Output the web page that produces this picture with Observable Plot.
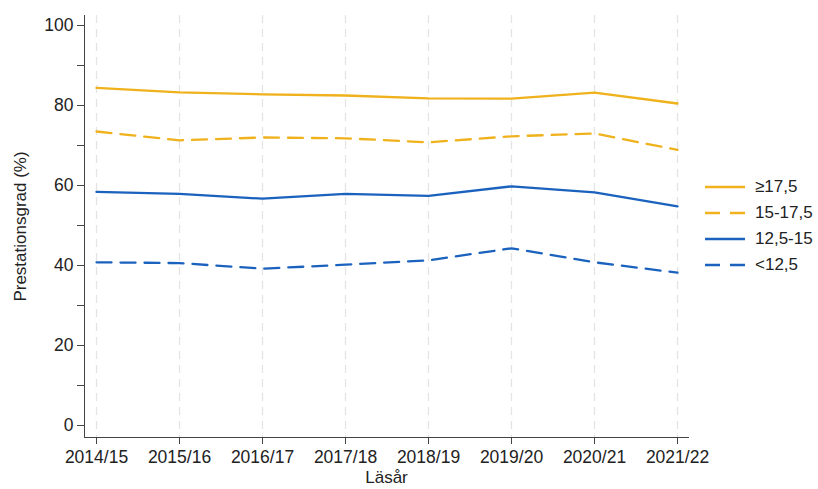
<!DOCTYPE html>
<html>
<head>
<meta charset="utf-8">
<script src="https://cdn.jsdelivr.net/npm/d3@7"></script>
<script src="https://cdn.jsdelivr.net/npm/@observablehq/plot@0.6"></script>
<style>
  html, body { margin: 0; padding: 0; background: #fff; }
  #wrap { position: relative; width: 818px; height: 489px; font-family: "Liberation Sans", Arial, sans-serif; }
  #legend { position: absolute; left: 705px; top: 174px; font-size: 17px; color: #222; }
  #legend .row { display: flex; align-items: center; height: 26px; }
  #legend svg { margin-right: 10px; }
</style>
</head>
<body>
<div id="wrap"><div id="chart"></div><div id="legend"></div></div>
<script>
const years = ["2014/15","2015/16","2016/17","2017/18","2018/19","2019/20","2020/21","2021/22"];
const seriesNames = ["≥17,5","15-17,5","12,5-15","<12,5"];
const seriesColors = ["#EFB11C","#EFB11C","#1A62BD","#1A62BD"];
const seriesDash = [null, "15,9", null, "15,9"];
const vTop = [84.4, 83.3, 82.8, 82.5, 81.8, 81.7, 83.2, 80.5];
const vHigh = [73.5, 71.3, 72.0, 71.8, 70.8, 72.3, 73.0, 68.9];
const vMid = [58.4, 57.9, 56.7, 57.9, 57.4, 59.8, 58.3, 54.8];
const vLow = [40.8, 40.6, 39.2, 40.2, 41.3, 44.3, 40.8, 38.2];
const majorTicks = [0, 20, 40, 60, 80, 100];
const minorTicks = [10, 30, 50, 70, 90];

const allValues = [vTop, vHigh, vMid, vLow];
const data = [];
seriesNames.forEach((s, i) => years.forEach((y, j) => data.push({series: s, year: y, value: allValues[i][j]})));

const lineMarks = seriesNames.map((s, i) =>
  Plot.line(data.filter(d => d.series === s), {
    x: "year", y: "value", stroke: seriesColors[i], strokeWidth: 2.3,
    strokeDasharray: seriesDash[i] || undefined
  })
);

const chart = Plot.plot({
  width: 818,
  height: 489,
  marginLeft: 84,
  marginRight: 130,
  marginTop: 15,
  marginBottom: 52,
  style: {fontFamily: "'Liberation Sans', Arial, sans-serif", fontSize: "17px", color: "#222", background: "#fff"},
  x: {type: "point", domain: years, padding: 0, insetLeft: 11, insetRight: 11, label: null},
  y: {domain: [0, 100], insetTop: 10, insetBottom: 12, label: null},
  marks: [
    Plot.gridX(years, {stroke: "#e4e4e4", strokeOpacity: 1, strokeWidth: 1.3, strokeDasharray: "8,6"}),
    Plot.axisY(majorTicks, {tickSize: 7, tickPadding: 4, stroke: "#444", fontSize: 17.5, label: null}),
    Plot.axisY(minorTicks, {tickSize: 7, tickFormat: () => "", stroke: "#444", label: null}),
    Plot.axisX(years, {tickSize: 7, tickPadding: 6, stroke: "#444", fontSize: 17.5, label: null}),
    Plot.frame({anchor: "left", stroke: "#444"}),
    Plot.frame({anchor: "bottom", stroke: "#444"}),
    ...lineMarks,
    Plot.text(["Läsår"], {frameAnchor: "bottom", dy: 45, fontSize: 17, fill: "#222"}),
    Plot.text(["Prestationsgrad (%)"], {frameAnchor: "left", textAnchor: "middle", dx: -64, rotate: -90, fontSize: 17, fill: "#222"})
  ]
});
document.getElementById("chart").appendChild(chart);

const legend = document.getElementById("legend");
seriesNames.forEach((s, i) => {
  const row = document.createElement("div");
  row.className = "row";
  row.innerHTML = `<svg width="40" height="6"><line x1="0" y1="3" x2="40" y2="3" stroke="${seriesColors[i]}" stroke-width="2.3" ${seriesDash[i] ? `stroke-dasharray="15,10"` : ""}/></svg><span>${s}</span>`;
  legend.appendChild(row);
});
</script>
</body>
</html>
